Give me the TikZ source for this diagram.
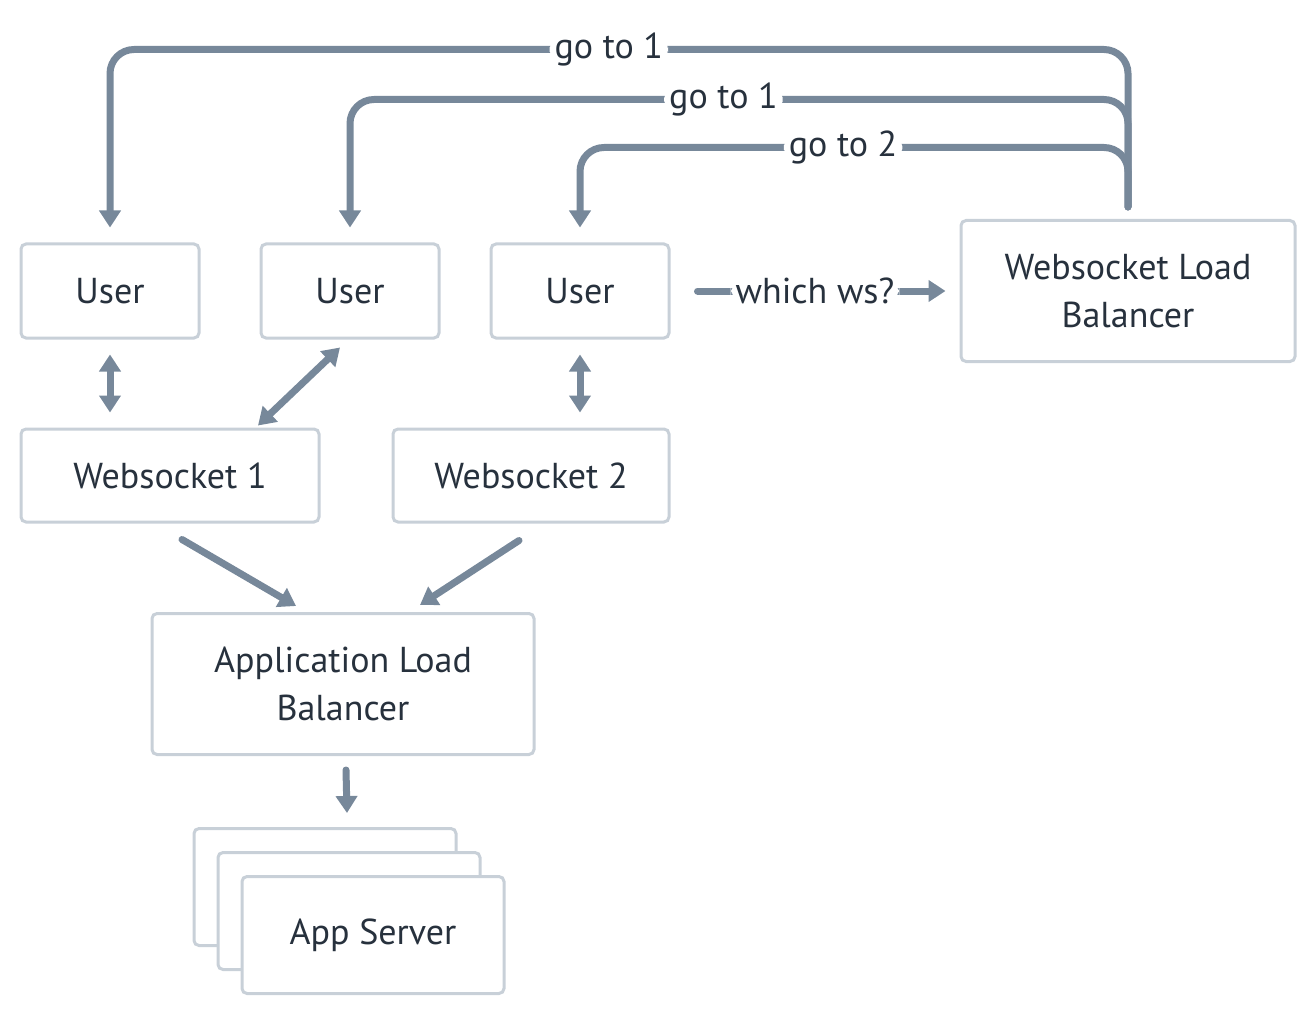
\documentclass[tikz,border=0pt]{standalone}
\usepackage{fontspec}
\setmainfont{PT Sans}
\usetikzlibrary{arrows.meta}
\usetikzlibrary{positioning,calc}
\definecolor{lineGray}{HTML}{77889A}
\definecolor{boxGray}{HTML}{C8D0D8}
\definecolor{textDark}{HTML}{27313D}

\begin{document}
\begin{tikzpicture}[x=1pt,y=-1pt,every text node part/.style={align=center}]
\tikzset{myFont/.style={font=\fontsize{36}{48}\selectfont,text=textDark}}
\tikzset{myBox/.style={draw=boxGray,line width=3pt,rounded corners=5pt,fill=white,inner sep=0pt,myFont}}
\tikzset{myTip/.style={-{Triangle[width=21pt,length=17pt]}}}
\tikzset{myBoth/.style={{Triangle[width=21pt,length=17pt]}-{Triangle[width=21pt,length=17pt]}}}
\tikzset{myLink/.style={draw=lineGray,line width=7pt,line cap=round,rounded corners=24pt}}
\tikzset{myLabel/.style={fill=white,inner sep=5pt,myFont}}

\useasboundingbox (0,0) rectangle (1316,1016);

\node[myBox,minimum width=178pt,minimum height=94pt] (user1) at (110,291) {User};
\node[myBox,minimum width=178pt,minimum height=94pt,right=59pt of user1] (user2) {User};
\node[myBox,minimum width=178pt,minimum height=94pt,right=49pt of user2] (user3) {User};
\node[myBox,minimum width=334pt,minimum height=141pt,right=289pt of user3] (wslb) {Websocket Load\\Balancer};

\node[myBox,minimum width=298pt,minimum height=93pt,below=88pt of user1.south west,anchor=north west] (ws1) {Websocket 1};
\node[myBox,minimum width=276pt,minimum height=93pt,right=71pt of ws1] (ws2) {Websocket 2};
\node[myBox,minimum width=382pt,minimum height=141pt] (alb) at (343,684) {Application Load\\Balancer};

\node[myBox,minimum width=262pt,minimum height=117pt,below=71pt of alb,xshift=-18pt] (app1) {};
\node[myBox,minimum width=262pt,minimum height=117pt] (app2) at ([xshift=24pt,yshift=-24pt]app1.center) {};
\node[myBox,minimum width=262pt,minimum height=117pt] (app3) at ([xshift=24pt,yshift=-24pt]app2.center) {App Server};

\path[myLink,myTip] ([yshift=12pt]wslb.north) |- node[myLabel,pos=0.755]{go to 1} ([yshift=193pt]user1.north) -- ([yshift=15pt]user1.north);
\path[myLink,myTip] ([yshift=12pt]wslb.north) |- node[myLabel,pos=0.76]{go to 1} ([yshift=143pt]user2.north) -- ([yshift=15pt]user2.north);
\path[myLink,myTip] ([yshift=12pt]wslb.north) |- node[myLabel,pos=0.76]{go to 2} ([yshift=95pt]user3.north) -- ([yshift=15pt]user3.north);

\path[myLink,myTip,shorten <=27pt,shorten >=14pt] (user3) -- node[myLabel]{which ws?} (wslb);

\path[myLink,myBoth,shorten <=15pt,shorten >=15pt] (user1) -- (user1 |- ws1.north);
\path[myLink,myBoth] ([xshift=-10pt,yshift=-8pt]user2.south) -- ([xshift=88pt,yshift=2pt]ws1.north);
\path[myLink,myBoth,shorten <=15pt,shorten >=15pt] (user3) -- (user3 |- ws2.north);

\path[myLink,myTip] ([xshift=12pt,yshift=-16pt]ws1.south) -- ([xshift=-47pt,yshift=6pt]alb.north);
\path[myLink,myTip] ([xshift=-12pt,yshift=-17pt]ws2.south) -- ([xshift=77pt,yshift=7pt]alb.north);
\path[myLink,myTip] ([xshift=3pt,yshift=-14pt]alb.south) -- ([xshift=22pt,yshift=14pt]app1.north);
\end{tikzpicture}
\end{document}
